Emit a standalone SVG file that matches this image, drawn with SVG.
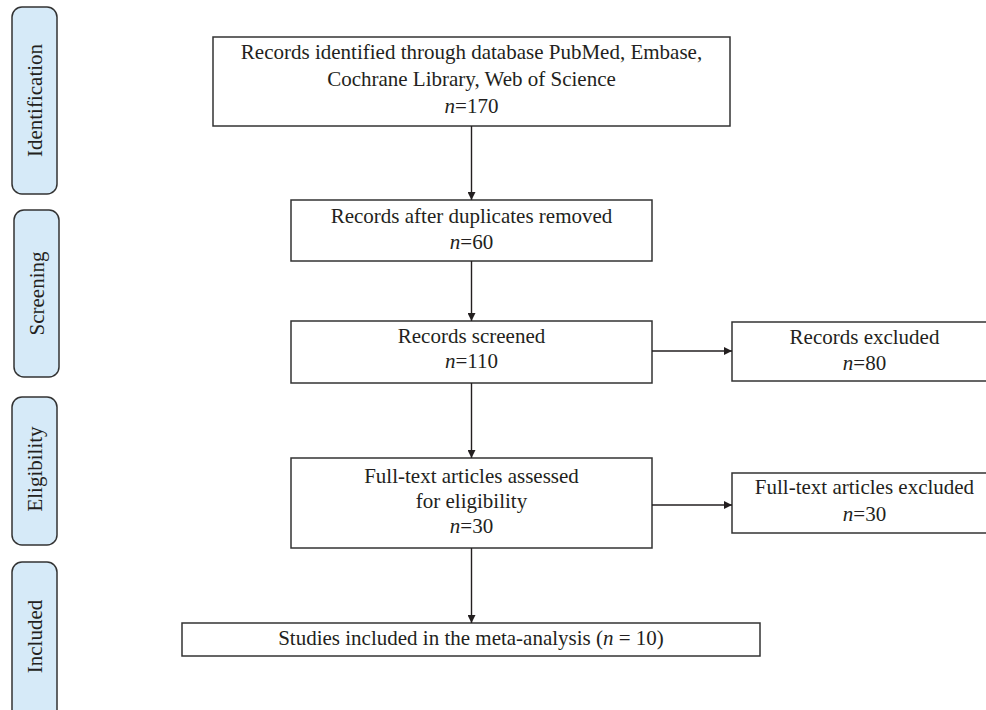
<svg xmlns="http://www.w3.org/2000/svg" width="986" height="710" viewBox="0 0 986 710">
<defs>
<style>
.box{fill:#fff;stroke:#333;stroke-width:1.5}
.stage{fill:#d6eaf8;stroke:#333;stroke-width:1.5}
.t{font-family:"Liberation Serif","Times New Roman",serif;font-size:21px;fill:#231f20;text-anchor:middle}
.i{font-style:italic}
.conn{stroke:#231f20;stroke-width:1.4;fill:none}
</style>
<marker id="arr" viewBox="0 0 10 10" refX="10" refY="5" markerWidth="8" markerHeight="8" markerUnits="userSpaceOnUse" orient="auto">
<path d="M0,0 L10,5 L0,10 z" fill="#231f20"/>
</marker>
</defs>
<rect width="986" height="710" fill="#fff"/>

<g id="stage-identification">
<rect class="stage" x="12" y="7" width="45" height="187" rx="10" ry="10"/>
<text class="t" transform="translate(41.5,100.5) rotate(-90)">Identification</text>
</g>
<g id="stage-screening">
<rect class="stage" x="14" y="210" width="45" height="167" rx="10" ry="10"/>
<text class="t" transform="translate(43.5,293.5) rotate(-90)">Screening</text>
</g>
<g id="stage-eligibility">
<rect class="stage" x="12" y="397" width="45" height="148" rx="10" ry="10"/>
<text class="t" transform="translate(41.5,469) rotate(-90)">Eligibility</text>
</g>
<g id="stage-included">
<rect class="stage" x="12" y="562" width="45" height="160" rx="10" ry="10"/>
<text class="t" transform="translate(41.5,636.5) rotate(-90)">Included</text>
</g>

<g id="identified">
<rect class="box" x="213" y="37" width="517" height="89"/>
<text class="t" x="471.5" y="59">Records identified through database PubMed, Embase,</text>
<text class="t" x="471.5" y="86">Cochrane Library, Web of Science</text>
<text class="t" x="471.5" y="113"><tspan class="i">n</tspan>=170</text>
</g>
<g id="duplicates-removed">
<rect class="box" x="291" y="200" width="361" height="61"/>
<text class="t" x="471.5" y="223">Records after duplicates removed</text>
<text class="t" x="471.5" y="249"><tspan class="i">n</tspan>=60</text>
</g>
<g id="screened">
<rect class="box" x="291" y="321" width="361" height="62"/>
<text class="t" x="471.5" y="343">Records screened</text>
<text class="t" x="471.5" y="368"><tspan class="i">n</tspan>=110</text>
</g>
<g id="records-excluded">
<rect class="box" x="732" y="322" width="268" height="59"/>
<text class="t" x="864.5" y="344">Records excluded</text>
<text class="t" x="864.5" y="370"><tspan class="i">n</tspan>=80</text>
</g>
<g id="fulltext-assessed">
<rect class="box" x="291" y="458" width="361" height="90"/>
<text class="t" x="471.5" y="483">Full-text articles assessed</text>
<text class="t" x="471.5" y="508">for eligibility</text>
<text class="t" x="471.5" y="533"><tspan class="i">n</tspan>=30</text>
</g>
<g id="fulltext-excluded">
<rect class="box" x="732" y="473" width="268" height="60"/>
<text class="t" x="864.5" y="494">Full-text articles excluded</text>
<text class="t" x="864.5" y="521"><tspan class="i">n</tspan>=30</text>
</g>
<g id="included">
<rect class="box" x="182" y="623" width="578" height="33"/>
<text class="t" x="471" y="645">Studies included in the meta-analysis (<tspan class="i">n</tspan> = 10)</text>
</g>

<g id="connectors">
<line class="conn" x1="471.5" y1="126" x2="471.5" y2="200" marker-end="url(#arr)"/>
<line class="conn" x1="471.5" y1="261" x2="471.5" y2="321" marker-end="url(#arr)"/>
<line class="conn" x1="652" y1="351" x2="732" y2="351" marker-end="url(#arr)"/>
<line class="conn" x1="471.5" y1="383" x2="471.5" y2="458" marker-end="url(#arr)"/>
<line class="conn" x1="652" y1="505" x2="732" y2="505" marker-end="url(#arr)"/>
<line class="conn" x1="471.5" y1="548" x2="471.5" y2="623" marker-end="url(#arr)"/>
</g>
</svg>
